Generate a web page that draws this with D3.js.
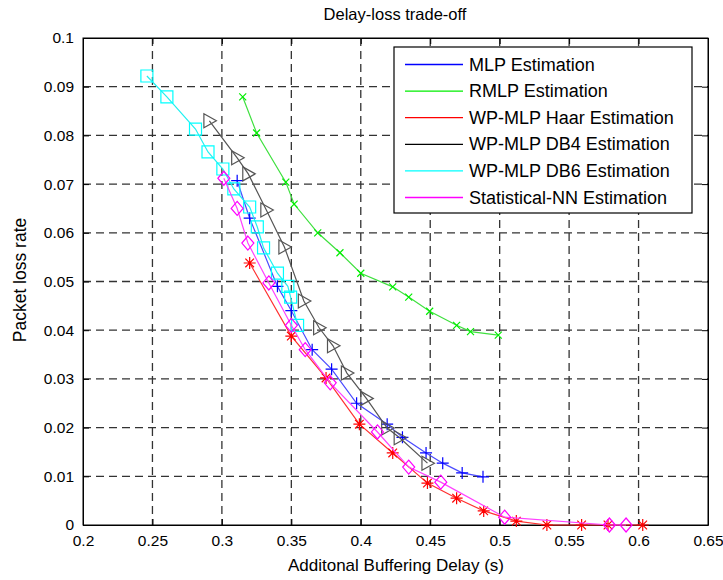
<!DOCTYPE html>
<html>
<head>
<meta charset="utf-8">
<script src="https://cdn.jsdelivr.net/npm/d3@7"></script>
<style>
  html, body { margin: 0; padding: 0; background: #fff; }
  text { font-family: "Liberation Sans", Arial, sans-serif; fill: #000; }
</style>
</head>
<body>
<svg id="chart" width="723" height="580"></svg>
<script>
// ---------- data ----------
const xTicks = [0.2, 0.25, 0.3, 0.35, 0.4, 0.45, 0.5, 0.55, 0.6, 0.65];
const yTicks = [0, 0.01, 0.02, 0.03, 0.04, 0.05, 0.06, 0.07, 0.08, 0.09, 0.1];
const xTickLabels = ["0.2", "0.25", "0.3", "0.35", "0.4", "0.45", "0.5", "0.55", "0.6", "0.65"];
const yTickLabels = ["0", "0.01", "0.02", "0.03", "0.04", "0.05", "0.06", "0.07", "0.08", "0.09", "0.1"];

const seriesNames = ["MLP Estimation", "RMLP Estimation", "WP-MLP Haar Estimation",
  "WP-MLP DB4 Estimation", "WP-MLP DB6 Estimation", "Statistical-NN Estimation"];

const mlpX = [0.311, 0.320, 0.340, 0.350, 0.365, 0.379, 0.397, 0.419, 0.430, 0.447, 0.459, 0.473, 0.488];
const mlpY = [0.0707, 0.063, 0.049, 0.044, 0.036, 0.032, 0.025, 0.0207, 0.018, 0.0148, 0.0127, 0.0107, 0.0099];

const rmlpX = [0.315, 0.325, 0.346, 0.352, 0.369, 0.385, 0.400, 0.423, 0.4345, 0.4496, 0.469, 0.479, 0.499];
const rmlpY = [0.0879, 0.0805, 0.0704, 0.0659, 0.060, 0.0559, 0.0517, 0.0489, 0.0468, 0.0439, 0.041, 0.0397, 0.039];

const haarX = [0.320, 0.350, 0.375, 0.399, 0.423, 0.448, 0.469, 0.4885, 0.512, 0.534, 0.559, 0.578, 0.603];
const haarY = [0.0538, 0.0388, 0.0302, 0.0207, 0.0148, 0.0086, 0.0055, 0.0029, 0.0008, 0, 0, 0, 0];

const db4X = [0.291, 0.311, 0.319, 0.332, 0.345, 0.359, 0.370, 0.380, 0.390, 0.404, 0.419, 0.428, 0.448];
const db4Y = [0.083, 0.0754, 0.0721, 0.0647, 0.0571, 0.046, 0.0405, 0.0368, 0.0312, 0.026, 0.0199, 0.0179, 0.0127];

const db6X = [0.246, 0.2604, 0.281, 0.290, 0.3007, 0.3086, 0.320, 0.3255, 0.330, 0.340, 0.3475, 0.3495, 0.3545];
const db6Y = [0.0922, 0.0879, 0.0813, 0.0766, 0.0731, 0.069, 0.0653, 0.0612, 0.0569, 0.0517, 0.049, 0.0468, 0.041];

const snnX = [0.3014, 0.311, 0.3187, 0.3338, 0.350, 0.360, 0.378, 0.412, 0.4345, 0.4576, 0.5036, 0.579, 0.591];
const snnY = [0.0712, 0.065, 0.0579, 0.0497, 0.041, 0.036, 0.0292, 0.0191, 0.0119, 0.0088, 0.0016, 0, 0];

// ---------- layout / styles ----------
const M = { left: 83, right: 708, top: 38, bottom: 525 };
const svg = d3.select("#chart");
const x = d3.scaleLinear().domain([0.2, 0.65]).range([M.left, M.right]);
const y = d3.scaleLinear().domain([0, 0.1]).range([M.bottom, M.top]);

const markerPaths = {
  plus: "M-6,0H6M0,-6V6",
  xmark: "M-3.5,-3.5L3.5,3.5M-3.5,3.5L3.5,-3.5",
  star: "M-6,0H6M0,-6V6M-4.3,-4.3L4.3,4.3M-4.3,4.3L4.3,-4.3",
  tri: "M-5.5,-7L7,0L-5.5,7Z",
  square: "M-6,-6H6V6H-6Z",
  diamond: "M0,-7L6,0L0,7L-6,0Z"
};

const series = [
  { name: seriesNames[0], xs: mlpX, ys: mlpY, color: "#0000ff", line: "#4a4aff", marker: "plus" },
  { name: seriesNames[1], xs: rmlpX, ys: rmlpY, color: "#00ee00", line: "#3fe03f", marker: "xmark" },
  { name: seriesNames[2], xs: haarX, ys: haarY, color: "#ff0000", line: "#ff3030", marker: "star" },
  { name: seriesNames[3], xs: db4X, ys: db4Y, color: "#000000", line: "#555555", marker: "tri", mcolor: "#555555" },
  { name: seriesNames[4], xs: db6X, ys: db6Y, color: "#00ffff", line: "#20f0f0", marker: "square" },
  { name: seriesNames[5], xs: snnX, ys: snnY, color: "#ff00ff", line: "#ff40ff", marker: "diamond" }
];

// ---------- grid ----------
const grid = svg.append("g");
grid.selectAll("line.gx").data(xTicks.slice(1, -1)).enter().append("line")
  .attr("x1", d => x(d)).attr("x2", d => x(d))
  .attr("y1", M.top).attr("y2", M.bottom)
  .attr("stroke", "#333").attr("stroke-width", 1.3).attr("stroke-dasharray", "8,5");
grid.selectAll("line.gy").data(yTicks.slice(1, -1)).enter().append("line")
  .attr("y1", d => y(d)).attr("y2", d => y(d))
  .attr("x1", M.left).attr("x2", M.right)
  .attr("stroke", "#333").attr("stroke-width", 1.3).attr("stroke-dasharray", "8,5");

// ---------- axes ----------
const xAxis = d3.axisBottom(x).tickValues(xTicks).tickFormat((d, i) => xTickLabels[i])
  .tickSizeInner(-6).tickSizeOuter(0).tickPadding(10);
const yAxis = d3.axisLeft(y).tickValues(yTicks).tickFormat((d, i) => yTickLabels[i])
  .tickSizeInner(-6).tickSizeOuter(0).tickPadding(9);
const xTop = d3.axisTop(x).tickValues(xTicks).tickFormat("").tickSizeInner(-6).tickSizeOuter(0);
const yRight = d3.axisRight(y).tickValues(yTicks).tickFormat("").tickSizeInner(-6).tickSizeOuter(0);

function styleAxis(g) {
  g.select(".domain").attr("stroke", "#000");
  g.selectAll(".tick line").attr("stroke", "#000");
  g.selectAll(".tick text").attr("font-size", 15.5).attr("font-family", "Liberation Sans, Arial, sans-serif").attr("fill", "#000");
}
svg.append("g").attr("transform", `translate(0,${M.bottom})`).call(xAxis).call(styleAxis);
svg.append("g").attr("transform", `translate(${M.left},0)`).call(yAxis).call(styleAxis);
svg.append("g").attr("transform", `translate(0,${M.top})`).call(xTop).call(styleAxis);
svg.append("g").attr("transform", `translate(${M.right},0)`).call(yRight).call(styleAxis);

svg.append("rect").attr("x", M.left).attr("y", M.top)
  .attr("width", M.right - M.left).attr("height", M.bottom - M.top)
  .attr("fill", "none").attr("stroke", "#000").attr("stroke-width", 1);

// ---------- series ----------
const line = d3.line().x(d => x(d[0])).y(d => y(d[1]));
series.forEach(s => {
  const pts = s.xs.map((v, i) => [v, s.ys[i]]);
  const g = svg.append("g");
  g.append("path").datum(pts).attr("d", line)
    .attr("fill", "none").attr("stroke", s.line).attr("stroke-width", 1.2);
  g.selectAll("path.m").data(pts).enter().append("path")
    .attr("transform", d => `translate(${x(d[0])},${y(d[1])})`)
    .attr("d", markerPaths[s.marker])
    .attr("fill", "none").attr("stroke", s.mcolor || s.color).attr("stroke-width", 1.2);
});

// ---------- legend ----------
const lg = svg.append("g");
lg.append("rect").attr("x", 394).attr("y", 47).attr("width", 298).attr("height", 166)
  .attr("fill", "#fff").attr("stroke", "#000").attr("stroke-width", 1.2);
series.forEach((s, i) => {
  const yy = 64.5 + i * 26.6;
  lg.append("line").attr("x1", 405).attr("x2", 463).attr("y1", yy).attr("y2", yy)
    .attr("stroke", s.color).attr("stroke-width", 1.3);
  lg.append("text").attr("x", 469).attr("y", yy + 6).attr("font-size", 18).text(s.name);
});

// ---------- titles ----------
svg.append("text").attr("x", 395).attr("y", 20).attr("text-anchor", "middle")
  .attr("font-size", 16.5).text("Delay-loss trade-off");
svg.append("text").attr("x", 396).attr("y", 571).attr("text-anchor", "middle")
  .attr("font-size", 17).text("Additonal Buffering Delay (s)");
svg.append("text").attr("transform", "translate(26,280) rotate(-90)").attr("text-anchor", "middle")
  .attr("font-size", 17.5).text("Packet loss rate");
</script>
</body>
</html>
